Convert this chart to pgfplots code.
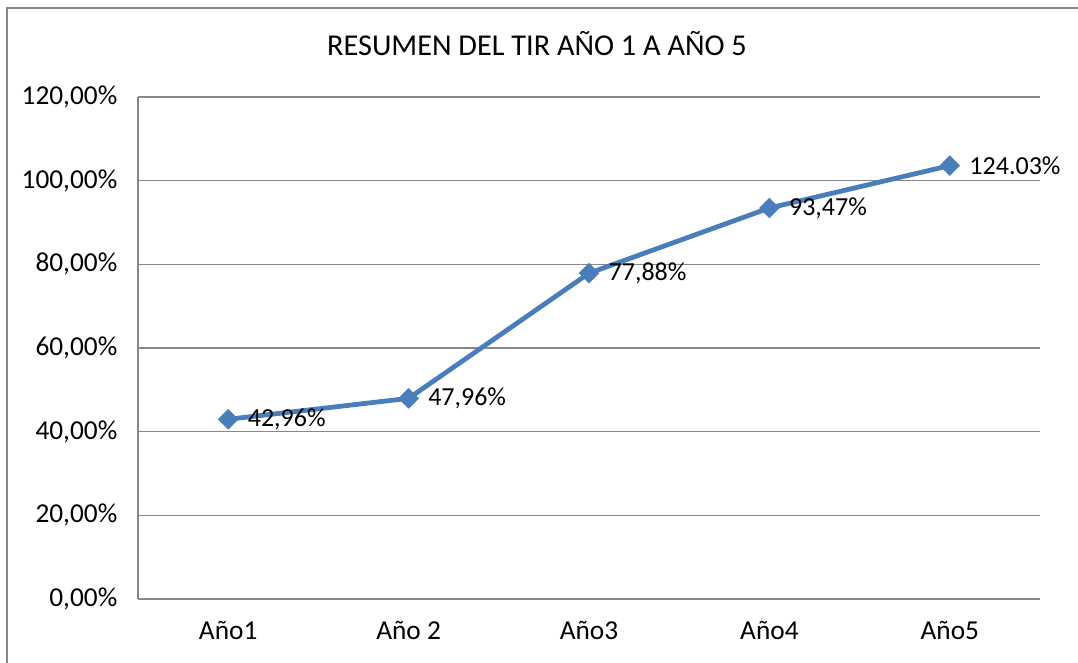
\documentclass[border=0pt]{standalone}
\usepackage{fontspec}
\setmainfont{Carlito}
\usepackage{pgfplots}
\pgfplotsset{compat=1.18}
\definecolor{lineblue}{HTML}{4A7EBB}
\definecolor{gridgray}{HTML}{888888}
\begin{document}
\begin{tikzpicture}[x=0.75pt,y=0.75pt]
\useasboundingbox (0,0) rectangle (1078,662);
\begin{scope}
\clip (0,0) rectangle (1078,662);
\draw[gridgray, line width=1.5pt] (7,-20) -- (7,654) -- (1100,654);
\end{scope}
\node[font=\fontsize{22.7}{26}\selectfont, anchor=base, inner sep=0pt] at (537,662-56) {RESUMEN DEL TIR AÑO 1 A AÑO 5};
\begin{axis}[
  at={(103.5pt,47.25pt)}, anchor=south west,
  scale only axis, width=676.5pt, height=376.5pt,
  xmin=-0.5, xmax=4.5, ymin=0, ymax=120,
  ytick={0,20,...,120},
  yticklabels={{0,00\%},{20,00\%},{40,00\%},{60,00\%},{80,00\%},{100,00\%},{120,00\%}},
  xtick={0,1,2,3,4},
  xticklabels={Año1,Año 2,Año3,Año4,Año5},
  ymajorgrids,
  grid style={gridgray, line width=1.1pt},
  axis x line*=bottom, axis y line*=left,
  axis line style={-, gridgray, line width=1.1pt},
  major tick style={draw=none},
  ticklabel style={font=\fontsize{20.5}{23}\selectfont},
  yticklabel style={xshift=-12pt},
  xticklabel style={yshift=-13pt},
  clip=false,
]
\addplot[color=lineblue, line width=3.6pt, mark=square*, mark size=5.2pt,
  mark options={rotate=45, line width=0.5pt, fill=lineblue},
  point meta=explicit symbolic,
  nodes near coords,
  nodes near coords style={anchor=west, xshift=14.5pt, yshift=0pt, black, font=\fontsize{19.5}{22}\selectfont, inner sep=0pt},
] coordinates {
  (0,42.96) [42,96\%]
  (1,47.96) [47,96\%]
  (2,77.88) [77,88\%]
  (3,93.47) [93,47\%]
  (4,103.6) [124.03\%]
};
\end{axis}
\end{tikzpicture}
\end{document}
